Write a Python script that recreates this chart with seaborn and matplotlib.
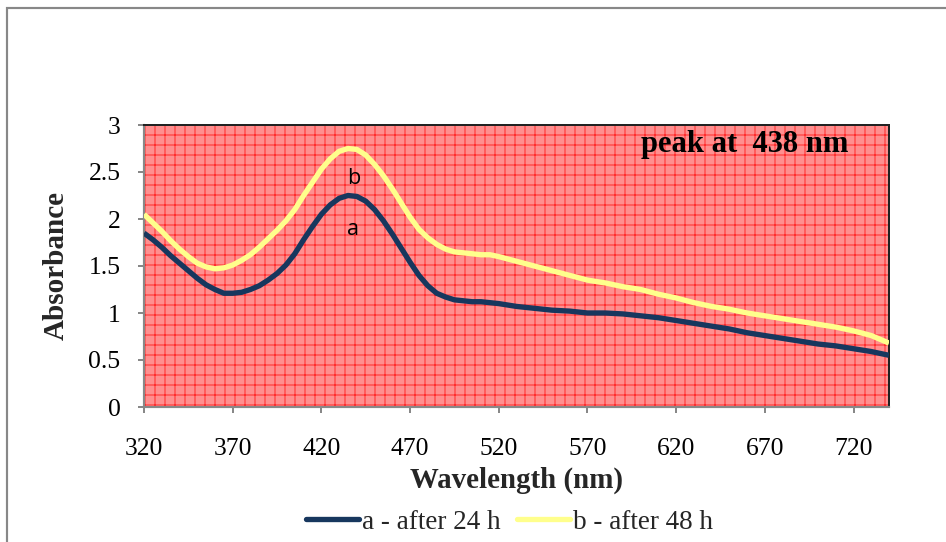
import numpy as np
import pandas as pd
import matplotlib
matplotlib.use("Agg")
import matplotlib.pyplot as plt
from matplotlib.patches import Rectangle
import seaborn as sns

wavelength = [320, 325, 330, 335, 340, 345, 350, 355, 360, 365, 370, 375, 380, 385,
              390, 395, 400, 405, 410, 415, 420, 425, 430, 435, 440, 445, 450, 455,
              460, 465, 470, 475, 480, 485, 490, 495, 500, 505, 510, 515, 520,
              530, 540, 550, 560, 570, 580, 590, 600, 610, 620, 630, 640, 650, 660,
              670, 680, 690, 700, 710, 720, 730, 740]
abs_24h = [1.85, 1.78, 1.70, 1.61, 1.53, 1.45, 1.37, 1.30, 1.25, 1.21, 1.21, 1.22,
           1.25, 1.29, 1.35, 1.42, 1.51, 1.63, 1.78, 1.92, 2.05, 2.15, 2.22, 2.25,
           2.24, 2.19, 2.10, 1.98, 1.84, 1.69, 1.54, 1.40, 1.29, 1.21, 1.17, 1.14,
           1.13, 1.12, 1.12, 1.11, 1.10,
           1.07, 1.05, 1.03, 1.02, 1.00, 1.00, 0.99, 0.97, 0.95, 0.92, 0.89, 0.86,
           0.83, 0.79, 0.76, 0.73, 0.70, 0.67, 0.65, 0.62, 0.59, 0.55]
abs_48h = [2.05, 1.96, 1.87, 1.77, 1.68, 1.60, 1.53, 1.49, 1.47, 1.48, 1.51, 1.56,
           1.62, 1.70, 1.79, 1.88, 1.98, 2.10, 2.25, 2.39, 2.53, 2.64, 2.72, 2.75,
           2.74, 2.68, 2.58, 2.46, 2.32, 2.17, 2.02, 1.89, 1.80, 1.73, 1.68, 1.65,
           1.64, 1.63, 1.62, 1.62, 1.60,
           1.55, 1.50, 1.45, 1.40, 1.35, 1.32, 1.28, 1.25, 1.20, 1.16, 1.11, 1.07,
           1.04, 1.00, 0.97, 0.94, 0.91, 0.88, 0.85, 0.81, 0.76, 0.68]
series_names = ["a - after 24 h", "b - after 48 h"]
x_ticks = [320, 370, 420, 470, 520, 570, 620, 670, 720]
y_ticks = [0, 0.5, 1, 1.5, 2, 2.5, 3]
y_tick_labels = ["0", "0.5", "1", "1.5", "2", "2.5", "3"]

df = pd.concat([
    pd.DataFrame({"Wavelength": wavelength, "Absorbance": abs_24h, "series": series_names[0]}),
    pd.DataFrame({"Wavelength": wavelength, "Absorbance": abs_48h, "series": series_names[1]}),
])

sns.set_theme(style="white")
plt.rcParams["font.family"] = ["Liberation Serif", "DejaVu Serif"]
plt.rcParams["hatch.linewidth"] = 0.5

DPI = 120
W, H = 946, 542
fig = plt.figure(figsize=(W / DPI, H / DPI), dpi=DPI)
fig.patch.set_facecolor("white")

# outer chart border
fig.add_artist(Rectangle((7 / W, -0.1), 2.0, 1 - 8 / H + 0.1, transform=fig.transFigure,
                         fill=False, edgecolor="#888888", linewidth=1.3))

L, R, T, B = 144, 889, 125, 407
ax = fig.add_axes([L / W, 1 - B / H, (R - L) / W, (B - T) / H])
ax.set_facecolor("#FF8F8F")
ax.add_patch(Rectangle((0, 0), 1, 1, transform=ax.transAxes, facecolor="none",
                       edgecolor="#FF1A1A", linewidth=0, hatch="++", zorder=0.5))

palette = {series_names[0]: "#17375E", series_names[1]: "#FFFF8C"}
sns.lineplot(data=df, x="Wavelength", y="Absorbance", hue="series", palette=palette,
             linewidth=3.2, ax=ax, legend=False, zorder=3,
             solid_joinstyle="round", solid_capstyle="butt")

ax.set_xlim(320, 740)
ax.set_ylim(0, 3)
ax.set_xticks(x_ticks)
ax.set_yticks(y_ticks)
ax.set_yticklabels(y_tick_labels)
ax.tick_params(axis="both", which="major", labelsize=15.4, colors="#888888",
               labelcolor="black", length=3.6, width=1.2, direction="out")
ax.tick_params(axis="x", pad=15)
ax.tick_params(axis="y", pad=10.5)
ax.tick_params(left=True, bottom=True)
for s in ["left", "bottom"]:
    ax.spines[s].set_color("#888888")
    ax.spines[s].set_linewidth(1.3)
for s in ["top", "right"]:
    ax.spines[s].set_color("#222222")
    ax.spines[s].set_linewidth(1.2)

ax.set_xlabel("Wavelength (nm)", fontsize=17.3, fontweight="bold", labelpad=4)
ax.set_ylabel("Absorbance", fontsize=17.5, fontweight="bold", labelpad=11)

ax.text(0.946, 0.93, "peak at  438 nm", transform=ax.transAxes, ha="right", va="center",
        fontsize=18.3, fontweight="bold", color="black", zorder=5)
ax.text(438, 2.43, "b", ha="center", va="center", fontsize=13,
        family=["Open Sans", "DejaVu Sans"], color="black", zorder=5)
ax.text(438, 1.89, "a", ha="center", va="center", fontsize=13,
        family=["Open Sans", "DejaVu Sans"], color="black", zorder=5)

handles = [plt.Line2D([], [], color=palette[n], linewidth=3.2) for n in series_names]
fig.legend(handles, series_names, loc="center", bbox_to_anchor=(509.5 / W, 1 - 522 / H),
           ncol=2, frameon=False, fontsize=16.3, handlelength=1.95, handletextpad=0.1,
           columnspacing=0.6, borderpad=0, borderaxespad=0)

fig.savefig("out.png", dpi=DPI, facecolor="white")
